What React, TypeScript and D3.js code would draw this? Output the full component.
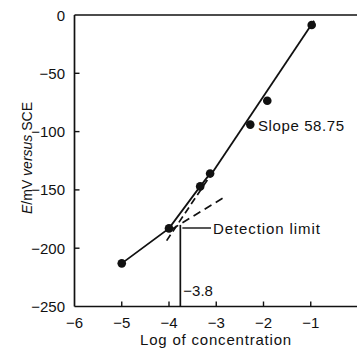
import React from "react";
import * as d3 from "d3";

const concentrations = [-5, -4, -3.34, -3.13, -2.28, -1.92, -0.98];
const potentials = [-213, -183, -147, -136, -94, -73.5, -8.6];

// fitted straight line (slope region): dashed below, solid above
const slopeLineX = [-4.05, -3.13, -0.93];
const slopeLineY = [-193.5, -138, -5];
// lower tangent line
const tangentX = [-3.95, -2.86];
const tangentY = [-184, -157];

const detectionX = -3.76;
const detectionTopY = -180;

const xTicks = [-6, -5, -4, -3, -2, -1];
const yTicks = [0, -50, -100, -150, -200, -250];

const W = 357;
const H = 353;

export default function App() {
  const x = d3.scaleLinear().domain([-6, 0]).range([74.5, 358]);
  const y = d3.scaleLinear().domain([-250, 0]).range([306.5, 15]);
  const font = "'Liberation Sans', Arial, Helvetica, sans-serif";
  const ink = "#111";

  const data = concentrations.map((c, i) => [c, potentials[i]] as [number, number]);
  const lowData = data.slice(0, 4);
  const line = d3
    .line<[number, number]>()
    .x((d) => x(d[0]))
    .y((d) => y(d[1]))
    .curve(d3.curveLinear);

  const seg = (x1: number, y1: number, x2: number, y2: number) =>
    `M${x(x1)},${y(y1)}L${x(x2)},${y(y2)}`;

  return (
    <svg
      width={W}
      height={H}
      style={{ position: "absolute", left: 0, top: 0, background: "#fff" }}
      fontFamily={font}
    >
      {/* axes */}
      <line x1={x(-6)} x2={W} y1={y(-250)} y2={y(-250)} stroke={ink} strokeWidth={1.7} />
      <line x1={x(-6)} x2={W} y1={y(0)} y2={y(0)} stroke={ink} strokeWidth={1.7} />
      <line x1={x(-6)} x2={x(-6)} y1={y(0)} y2={y(-250)} stroke={ink} strokeWidth={1.7} />

      {xTicks.map((t) => (
        <g key={"x" + t}>
          {t !== -6 && (
            <line x1={x(t)} x2={x(t)} y1={y(-250)} y2={y(-250) - 5} stroke={ink} strokeWidth={1.4} />
          )}
          <text x={x(t)} y={328} fontSize={15} textAnchor="middle" fill={ink}>
            {t < 0 ? "\u2212" + Math.abs(t) : String(t)}
          </text>
        </g>
      ))}
      {yTicks.map((t) => (
        <g key={"y" + t}>
          {t !== 0 && t !== -250 && (
            <line x1={x(-6)} x2={x(-6) + 5} y1={y(t)} y2={y(t)} stroke={ink} strokeWidth={1.4} />
          )}
          <text x={65} y={y(t)} fontSize={15} textAnchor="end" dominantBaseline="central" fill={ink}>
            {t < 0 ? "\u2212" + Math.abs(t) : String(t)}
          </text>
        </g>
      ))}

      <text x={216} y={345} fontSize={15} textAnchor="middle" letterSpacing={0.8} fill={ink}>
        Log of concentration
      </text>
      <text
        transform={`translate(32,158) rotate(-90)`}
        fontSize={14}
        textAnchor="middle"
        fill={ink}
      >
        <tspan fontStyle="italic">E</tspan>
        <tspan>/mV </tspan>
        <tspan fontStyle="italic">versus</tspan>
        <tspan> SCE</tspan>
      </text>

      {/* tangent lines */}
      <path
        d={seg(slopeLineX[0], slopeLineY[0], slopeLineX[1], slopeLineY[1])}
        stroke={ink}
        strokeWidth={1.7}
        strokeDasharray="7,4"
        fill="none"
      />
      <path
        d={seg(slopeLineX[1], slopeLineY[1], slopeLineX[2], slopeLineY[2])}
        stroke={ink}
        strokeWidth={1.8}
        fill="none"
      />
      <path
        d={seg(tangentX[0], tangentY[0], tangentX[1], tangentY[1])}
        stroke={ink}
        strokeWidth={1.7}
        strokeDasharray="8,5"
        fill="none"
      />

      {/* data curve (lower, non-linear part) */}
      <path d={line(lowData) || ""} stroke={ink} strokeWidth={1.8} fill="none" />
      {data.map((d, i) => (
        <circle key={i} cx={x(d[0])} cy={y(d[1])} r={4.3} fill={ink} />
      ))}

      {/* detection limit */}
      <line
        x1={x(detectionX)}
        x2={x(detectionX)}
        y1={y(-250)}
        y2={y(detectionTopY)}
        stroke={ink}
        strokeWidth={1.7}
      />
      <line x1={x(detectionX) + 2} x2={211} y1={228} y2={228} stroke={ink} strokeWidth={1.4} />
      <text x={213} y={228} fontSize={15} dominantBaseline="central" letterSpacing={0.9} fill={ink}>
        Detection limit
      </text>
      <text x={x(detectionX) + 3} y={296} fontSize={15} fill={ink}>
        {"\u22123.8"}
      </text>
      <text x={258} y={125} fontSize={15} dominantBaseline="central" letterSpacing={0.6} fill={ink}>
        Slope 58.75
      </text>
    </svg>
  );
}
